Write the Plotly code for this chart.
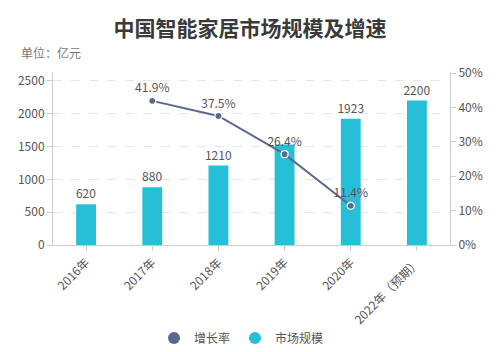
import plotly.graph_objects as go

categories = ["2016年", "2017年", "2018年", "2019年", "2020年", "2022年（预期）"]
market_size = [620, 880, 1210, 1530, 1923, 2200]
growth_cats = ["2017年", "2018年", "2019年", "2020年"]
growth_rate = [41.9, 37.5, 26.4, 11.4]
hidden_bar_labels = ["2019年"]

BAR_COLOR = "#25bfd8"
LINE_COLOR = "#5a6a8e"
FONT = "Noto Sans CJK SC, Noto Sans, sans-serif"

bar_text = ["" if c in hidden_bar_labels else str(v) for c, v in zip(categories, market_size)]

fig = go.Figure()

fig.add_trace(go.Bar(
    x=categories, y=market_size, name="市场规模",
    marker=dict(color=BAR_COLOR, line=dict(width=0)),
    text=bar_text, textposition="outside", cliponaxis=False, constraintext="none",
    textfont=dict(size=12, color="#555555"),
    showlegend=False,
))

fig.add_trace(go.Scatter(
    x=growth_cats, y=growth_rate, name="增长率", yaxis="y2",
    mode="lines+markers+text",
    line=dict(color=LINE_COLOR, width=2),
    marker=dict(size=7, color=LINE_COLOR, line=dict(color="white", width=1.2)),
    text=[f"{v:.1f}%" for v in growth_rate], textposition="top center",
    textfont=dict(size=12, color="#555555"),
    cliponaxis=False, showlegend=False,
))

# legend entries
fig.add_trace(go.Scatter(x=[None], y=[None], mode="markers", name="增长率",
                         marker=dict(size=10, color=LINE_COLOR, symbol="circle")))
fig.add_trace(go.Scatter(x=[None], y=[None], mode="markers", name="市场规模",
                         marker=dict(size=10, color=BAR_COLOR, symbol="circle")))

fig.update_layout(
    width=500, height=352,
    margin=dict(l=53, r=50, t=73, b=107, autoexpand=False),
    paper_bgcolor="white", plot_bgcolor="white",
    font=dict(family=FONT, size=12, color="#555555"),
    bargap=0.7,
    title=dict(text="<b>中国智能家居市场规模及增速</b>", x=0.5, xanchor="center",
               y=0.918, yanchor="middle", font=dict(size=21, color="#3a3a3a")),
    xaxis=dict(type="category", categoryorder="array", categoryarray=categories,
               tickangle=-45, showline=True, linecolor="#cccccc", linewidth=1,
               ticks="outside", ticklen=5, tickcolor="#cccccc", showgrid=False,
               automargin=False,
               tickfont=dict(size=12, color="#555555")),
    yaxis=dict(range=[0, 2620], tickvals=[0, 500, 1000, 1500, 2000, 2500],
               showline=True, linecolor="#cccccc", linewidth=1,
               ticks="outside", ticklen=5, tickcolor="#cccccc", automargin=False,
               showgrid=True, gridcolor="#e6e6e6", griddash="dash", gridwidth=1,
               zeroline=False, tickfont=dict(size=12, color="#555555")),
    yaxis2=dict(range=[0, 50], tickvals=[0, 10, 20, 30, 40, 50],
                ticktext=["0%", "10%", "20%", "30%", "40%", "50%"],
                overlaying="y", side="right", showline=True, linecolor="#cccccc",
                linewidth=1, ticks="outside", ticklen=5, tickcolor="#cccccc",
                showgrid=False, zeroline=False, automargin=False,
                tickfont=dict(size=12, color="#555555")),
    legend=dict(orientation="h", xref="container", x=0.483, xanchor="center",
                yref="container", y=0.04, yanchor="middle",
                font=dict(size=12, color="#555555"), itemsizing="constant",
                itemwidth=30, bgcolor="rgba(0,0,0,0)"),
    annotations=[dict(text="单位：亿元", xref="paper", yref="paper", x=-0.085, y=1.12,
                      xanchor="left", yanchor="middle", showarrow=False,
                      font=dict(size=12, color="#777777"))],
)

fig.write_html("out.html")
